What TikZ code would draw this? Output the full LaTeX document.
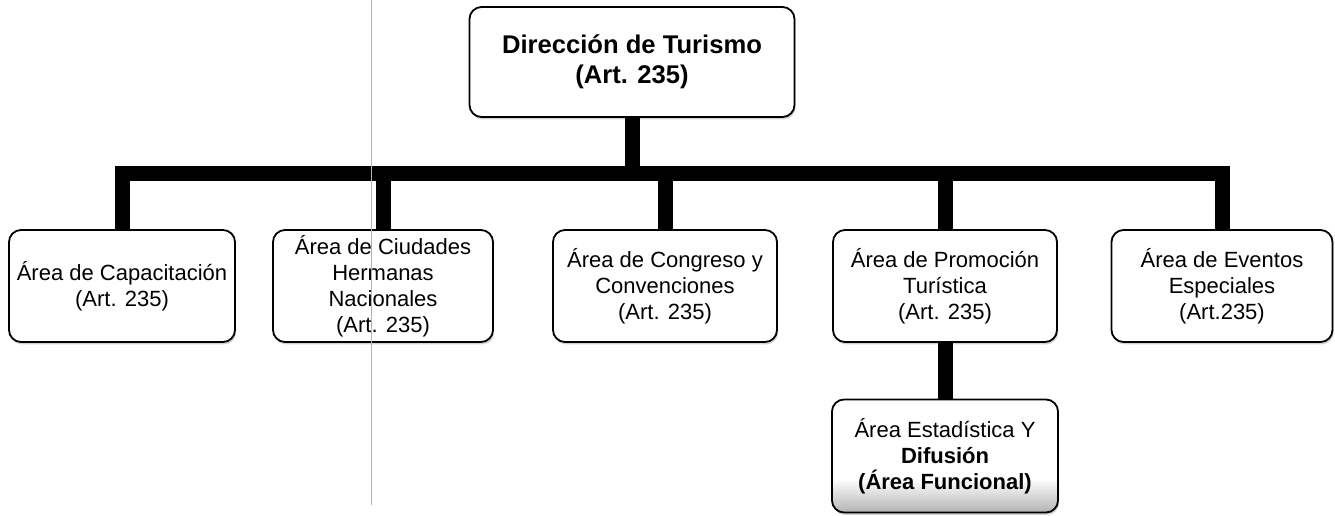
\documentclass[tikz,border=0pt]{standalone}
\usepackage{fontspec}
\setmainfont{Liberation Sans}
\usetikzlibrary{shadows}
\pgfdeclareverticalshading{estshade}{100bp}{color(0bp)=(gray!60); color(25bp)=(gray!60); color(40bp)=(white); color(100bp)=(white)}

\begin{document}
\begin{tikzpicture}[x=0.5pt,y=0.5pt,yscale=-1,xscale=1,
  areabox/.style={draw=black,line width=0.9pt,rounded corners=6pt,fill=white,
    align=center,font=\fontsize{11}{13}\selectfont,inner sep=1pt,
    minimum height=56pt,
    drop shadow={shadow xshift=0.6pt,shadow yshift=-1.2pt,opacity=0.35}},
  link/.style={line width=7.5pt,line join=miter,draw=black}]
%set diagram size
\path[use as bounding box] (0,0) rectangle (1335,515);

%Straight Lines (bus)
\coordinate (bar) at (632,173);

% Text Node
\node[areabox,minimum width=162.5pt,minimum height=55pt,font=\bfseries\fontsize{12.8}{15}\selectfont] (dir) at (632,62) {Dirección de Turismo\\(Art. 235)};
% Text Node
\node[areabox,minimum width=113pt] (cap) at (122,286) {Área de Capacitación\\(Art. 235)};
% Text Node
\node[areabox,minimum width=110pt] (ciu) at (383,286) {Área de Ciudades\\Hermanas\\Nacionales\\(Art. 235)};
% Text Node
\node[areabox,minimum width=112pt] (con) at (665,286) {Área de Congreso y\\Convenciones\\(Art. 235)};
% Text Node
\node[areabox,minimum width=112pt] (pro) at (945,286) {Área de Promoción\\Turística\\(Art. 235)};
% Text Node
\node[areabox,minimum width=110.5pt] (eve) at (1222,286) {Área de Eventos\\Especiales\\(Art.235)};
% Text Node
\node[areabox,minimum width=113pt,minimum height=56.5pt,shading=estshade] (est) at (945,456)
  {Área Estadística Y\\\textbf{Difusión}\\\textbf{(Área Funcional)}};

%Straight Lines
\draw[link] (dir.south) -- (dir.south |- bar);
\draw[link] (cap.north) |- (bar -| eve.north) -- (eve.north);
\foreach \n in {ciu,con,pro}
  \draw[link] (bar -| \n.north) -- (\n.north);
\draw[link] (pro.south) -- (est.north);

%Straight Lines (scan line)
\draw[gray!60,line width=0.5pt] (371,0) -- (371,505);

\end{tikzpicture}
\end{document}
